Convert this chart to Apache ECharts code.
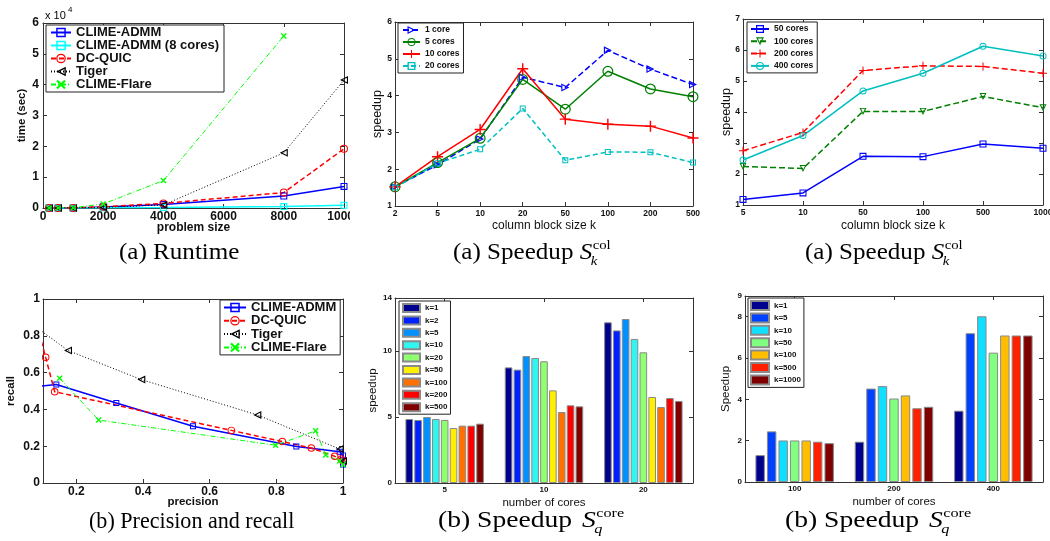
<!DOCTYPE html>
<html><head><meta charset="utf-8">
<script src="https://cdn.jsdelivr.net/npm/echarts@6/dist/echarts.min.js"></script>
<style>
html,body{margin:0;padding:0;background:#fff;}
#wrap{position:relative;width:1050px;height:541px;overflow:hidden;background:#fff;}
.p{position:absolute;width:350px;overflow:hidden;}
</style></head><body>
<div id="wrap">
<div class="p" id="c1" style="left:0;top:0;height:270px"></div>
<div class="p" id="c2" style="left:350px;top:0;height:270px"></div>
<div class="p" id="c3" style="left:700px;top:0;height:270px"></div>
<div class="p" id="c4" style="left:0;top:270px;height:271px"></div>
<div class="p" id="c5" style="left:350px;top:270px;height:271px"></div>
<div class="p" id="c6" style="left:700px;top:270px;height:271px"></div>
</div>
<script>
// ---------------- DATA ----------------
// (a) Runtime: time in seconds vs problem size
const runtimeSizes = [200, 500, 1000, 2000, 4000, 8000, 10000];
const runtimeAdmm   = [5, 10, 30, 300, 1100, 3900, 7000];
const runtimeAdmm8  = [2, 5, 10, 60, 150, 450, 900];
const runtimeDcQuic = [5, 15, 40, 400, 1500, 5000, 19200];
const runtimeTiger  = [5, 15, 40, 200, 1000, 17900, 41500];
const runtimeFlare  = [10, 30, 100, 1300, 8900, 55800, null];

// (a) Speedup S_k^col, small core counts
const colBlockA = ['2', '5', '10', '20', '50', '100', '200', '500'];
const sp1core   = [1.52, 2.12, 2.82, 4.50, 4.22, 5.23, 4.72, 4.30];
const sp5cores  = [1.52, 2.18, 2.84, 4.44, 3.63, 4.66, 4.18, 3.97];
const sp10cores = [1.52, 2.34, 3.08, 4.73, 3.36, 3.22, 3.17, 2.85];
const sp20cores = [1.50, 2.16, 2.54, 3.65, 2.24, 2.47, 2.46, 2.18];

// (a) Speedup S_k^col, large core counts
const colBlockB  = ['5', '10', '50', '100', '500', '1000'];
const sp50cores  = [1.18, 1.39, 2.57, 2.56, 2.97, 2.83];
const sp100cores = [2.24, 2.18, 4.02, 4.02, 4.50, 4.14];
const sp200cores = [2.75, 3.34, 5.34, 5.49, 5.47, 5.25];
const sp400cores = [2.45, 3.24, 4.68, 5.25, 6.12, 5.81];

// (b) Precision and recall: [precision, recall]
const prAdmm  = [[0.05, 0.52], [0.14, 0.535], [0.32, 0.435], [0.55, 0.308], [0.86, 0.198], [0.99, 0.17], [1.0, 0.15], [1.0, 0.10]];
const prQuic  = [[0.095, 0.77], [0.108, 0.683], [0.135, 0.496], [0.665, 0.286], [0.818, 0.225], [0.905, 0.19], [0.975, 0.145], [0.995, 0.13], [1.0, 0.12]];
const prTiger = [[0.06, 0.873], [0.175, 0.72], [0.395, 0.562], [0.743, 0.37], [0.99, 0.185], [1.0, 0.12]];
const prFlare = [[0.15, 0.569], [0.267, 0.342], [0.798, 0.205], [0.918, 0.284], [0.948, 0.152], [0.99, 0.12], [1.0, 0.10]];

// (b) Speedup S_q^core, small core counts
const coresA = ['5', '10', '20'];
const kNamesA = ['k=1', 'k=2', 'k=5', 'k=10', 'k=20', 'k=50', 'k=100', 'k=200', 'k=500'];
const coreSpA = [
  [4.84, 8.75, 12.16],
  [4.77, 8.58, 11.55],
  [4.99, 9.61, 12.41],
  [4.84, 9.46, 10.90],
  [4.77, 9.21, 9.89],
  [4.16, 7.01, 6.51],
  [4.34, 5.37, 5.75],
  [4.34, 5.88, 6.43],
  [4.49, 5.80, 6.21]
];
// (b) Speedup S_q^core, large core counts
const coresB = ['100', '200', '400'];
const kNamesB = ['k=1', 'k=5', 'k=10', 'k=50', 'k=100', 'k=500', 'k=1000'];
const coreSpB = [
  [1.30, 1.95, 3.45],
  [2.45, 4.52, 7.20],
  [2.01, 4.64, 8.02],
  [2.01, 4.04, 6.26],
  [2.01, 4.19, 7.09],
  [1.95, 3.57, 7.09],
  [1.88, 3.64, 7.09]
];

// ---------------- STYLE ----------------
const SANS = '"Liberation Sans", Arial, Helvetica, sans-serif';
const SERIF = '"Liberation Serif", "Times New Roman", serif';
const INK = '#111';
const FRAME = '#333';
const jetA = ['#00008F', '#0020FF', '#0090FF', '#30F5F0', '#90FF70', '#FFEF00', '#FF7000', '#FF0000', '#800000'];
const jetB = ['#00008F', '#0040FF', '#10DFFF', '#80FF80', '#FFBF00', '#FF2000', '#800000'];

function sqSym(t) { return `path://M0,0H10V10H0Z M${t},${t}V${10 - t}H${10 - t}V${t}Z`; }
function circSym(t) {
  const r = 5 - t;
  return `path://M5,0A5,5,0,1,1,5,10A5,5,0,1,1,5,0Z M5,${t}A${r},${r},0,1,0,5,${10 - t}A${r},${r},0,1,0,5,${t}Z`;
}
function triSym(t) {
  const ix = 5, iy = 6.91, ir = 3.09, k = (ir - t) / ir;
  const p = (x, y) => [(ix + k * (x - ix)).toFixed(2), (iy + k * (y - iy)).toFixed(2)];
  const a = p(5, 0), b = p(10, 10), c = p(0, 10);
  return `path://M5,0L10,10L0,10Z M${a[0]},${a[1]}L${c[0]},${c[1]}L${b[0]},${b[1]}Z`;
}
function plusSym(t) { const h = t / 2; return `path://M${5 - h},0H${5 + h}V10H${5 - h}Z M0,${5 - h}H10V${5 + h}H0Z`; }
function crossSym(t) { return `path://M0,${t}L${t},0L10,${10 - t}L${10 - t},10Z M${10 - t},0L10,${t}L${t},10L0,${10 - t}Z`; }

function lineSer(name, data, color, type, width, symbol, size, rot) {
  return {
    name, type: 'line', data, symbol, symbolSize: size, symbolRotate: rot || 0, showSymbol: true,
    lineStyle: { color, width, type }, itemStyle: { color, borderWidth: 0 },
    emphasis: { disabled: true }, animation: false, clip: true
  };
}
function barSer(name, data, color) {
  return {
    name, type: 'bar', data, barGap: '16%', barCategoryGap: '21%',
    itemStyle: { color, borderColor: '#8a8a8a', borderWidth: 1 },
    emphasis: { disabled: true }, animation: false
  };
}
function gridCfg(left, top, width, height) {
  return { left, top, width, height, show: false, containLabel: false, outerBoundsMode: 'none' };
}
function ax(pos, showLabel, fs, extra) {
  return Object.assign({
    position: pos,
    nameMoveOverlap: false,
    axisLine: { show: true, onZero: false, lineStyle: { color: FRAME, width: 1 } },
    axisTick: { show: true, inside: true, length: 4, lineStyle: { color: FRAME, width: 1 } },
    splitLine: { show: false },
    axisLabel: { show: showLabel, color: INK, fontFamily: SANS, fontWeight: 'bold', fontSize: fs, margin: 3, formatter: v => String(v) }
  }, extra || {});
}
function nameStyle(fs, bold) { return { fontFamily: SANS, fontSize: fs, fontWeight: bold ? 'bold' : 'normal', color: INK }; }
function legendCfg(left, top, fs, iw, ih, gap, pad) {
  return {
    orient: 'vertical', left, top, itemWidth: iw, itemHeight: ih, itemGap: gap,
    padding: pad, backgroundColor: '#fff', borderColor: '#222', borderWidth: 1, borderRadius: 0,
    textStyle: { fontFamily: SANS, fontWeight: 'bold', fontSize: fs, color: INK, lineHeight: ih },
    selectedMode: false
  };
}
const measureCtx = document.createElement('canvas').getContext('2d');
function textW(font, s) { measureCtx.font = font; return measureCtx.measureText(s).width; }
function txt(x, baseline, s, size, italic, weight, family, sx) {
  const font = `${italic ? 'italic ' : ''}${weight || 'normal'} ${size}px ${family || SERIF}`;
  return {
    type: 'text', x, y: baseline - 0.32 * size, scaleX: sx || 1, silent: true,
    style: { text: s, font, fill: '#000', textAlign: 'left', textVerticalAlign: 'middle', align: 'left', verticalAlign: 'middle' }
  };
}
function plainCaption(s, left, base, sx) { return [txt(left, base, s, 23, false, 'normal', SERIF, sx)]; }
function speedCaption(prefix, sup, sub, left, base, sx, extra) {
  const wP = textW(`normal 23px ${SERIF}`, prefix + ' ') * sx;
  const wS = textW(`italic normal 23px ${SERIF}`, 'S') * sx;
  const sLeft = left + wP + extra;
  return [
    txt(left, base, prefix, 23, false, 'normal', SERIF, sx),
    txt(sLeft, base, 'S', 23, true, 'normal', SERIF, sx),
    txt(sLeft + wS + 0.5, base - 10.5, sup, 13.5, false, 'normal', SERIF, sx),
    txt(sLeft + wS - 1.5, base + 5.5, sub, 13.5, true, 'normal', SERIF, sx)
  ];
}
function mk(id, opt) {
  const c = echarts.init(document.getElementById(id), null, { renderer: 'canvas' });
  opt.animation = false;
  c.setOption(opt);
}

// ---------------- PANEL 1: Runtime ----------------
function pairs(xs, ys) { const out = []; xs.forEach((x, i) => { if (ys[i] !== null) out.push([x, ys[i]]); }); return out; }
mk('c1', {
  grid: gridCfg(43, 23, 301, 185),
  xAxis: [
    ax('bottom', true, 12, { type: 'value', min: 0, max: 10000, interval: 2000, name: 'problem size', nameLocation: 'middle', nameGap: 14, nameTextStyle: nameStyle(12, true) }),
    ax('top', false, 12, { type: 'value', min: 0, max: 10000, interval: 2000 })
  ],
  yAxis: [
    ax('left', true, 12, { type: 'value', min: 0, max: 60000, interval: 10000, name: 'time (sec)', nameLocation: 'middle', nameGap: 15, nameTextStyle: nameStyle(11.5, true),
      axisLabel: { color: INK, fontFamily: SANS, fontWeight: 'bold', fontSize: 12, margin: 4, formatter: v => String(v / 10000) } }),
    ax('right', false, 12, { type: 'value', min: 0, max: 60000, interval: 10000 })
  ],
  legend: legendCfg(46, 25, 13, 20, 12, 0, [1, 5, 1, 4]),
  graphic: [
    txt(45, 19, 'x 10', 11, false, 'normal', SANS),
    txt(68, 12, '4', 8, false, 'normal', SANS)
  ].concat(plainCaption('(a) Runtime', 119, 260, 1.09)),
  series: [
    lineSer('CLIME-ADMM', pairs(runtimeSizes, runtimeAdmm), '#0000FF', 'solid', 1.5, sqSym(1.5), 7),
    lineSer('CLIME-ADMM (8 cores)', pairs(runtimeSizes, runtimeAdmm8), '#00FFFF', 'solid', 1.5, sqSym(1.5), 7),
    lineSer('DC-QUIC', pairs(runtimeSizes, runtimeDcQuic), '#FF0000', [5, 3], 1.5, circSym(1.3), 8),
    lineSer('Tiger', pairs(runtimeSizes, runtimeTiger), '#000000', [1, 2], 1, triSym(1.4), 8, 90),
    lineSer('CLIME-Flare', pairs(runtimeSizes, runtimeFlare), '#00FF00', [5, 2, 1, 2], 1, crossSym(1.6), 6)
  ]
});

// ---------------- PANEL 2: Speedup col (small cores) ----------------
mk('c2', {
  grid: gridCfg(45, 22, 298, 184),
  xAxis: [
    ax('bottom', true, 8.5, { type: 'category', data: colBlockA, boundaryGap: false, name: 'column block size k', nameLocation: 'middle', nameGap: 14, nameTextStyle: nameStyle(12, false) }),
    ax('top', false, 8.5, { type: 'category', data: colBlockA, boundaryGap: false })
  ],
  yAxis: [
    ax('left', true, 8.5, { type: 'value', min: 1, max: 6, interval: 1, name: 'speedup', nameLocation: 'middle', nameGap: 11, nameTextStyle: nameStyle(12.5, false) }),
    ax('right', false, 8.5, { type: 'value', min: 1, max: 6, interval: 1 })
  ],
  legend: legendCfg(48, 23, 8.5, 17, 10, 2, [2, 4, 2, 4]),
  graphic: speedCaption('(a) Speedup', 'col', 'k', 103, 260, 1.09, 0),
  series: [
    lineSer('1 core', sp1core, '#0000FF', [6, 3], 1.5, triSym(1.4), 8, -90),
    lineSer('5 cores', sp5cores, '#008000', 'solid', 1.5, circSym(1.1), 11),
    lineSer('10 cores', sp10cores, '#FF0000', 'solid', 1.5, plusSym(1.3), 11),
    lineSer('20 cores', sp20cores, '#00BFBF', [5, 3], 1.5, sqSym(1.7), 6)
  ]
});

// ---------------- PANEL 3: Speedup col (large cores) ----------------
mk('c3', {
  grid: gridCfg(43, 19, 300, 186),
  xAxis: [
    ax('bottom', true, 8.5, { type: 'category', data: colBlockB, boundaryGap: false, name: 'column block size k', nameLocation: 'middle', nameGap: 15, nameTextStyle: nameStyle(12, false) }),
    ax('top', false, 8.5, { type: 'category', data: colBlockB, boundaryGap: false })
  ],
  yAxis: [
    ax('left', true, 8.5, { type: 'value', min: 1, max: 7, interval: 1, name: 'speedup', nameLocation: 'middle', nameGap: 10, nameTextStyle: nameStyle(12.5, false) }),
    ax('right', false, 8.5, { type: 'value', min: 1, max: 7, interval: 1 })
  ],
  legend: legendCfg(47, 22, 8.5, 18, 10, 2.3, [2, 4, 2, 3]),
  graphic: speedCaption('(a) Speedup', 'col', 'k', 105, 260, 1.09, 0),
  series: [
    lineSer('50 cores', sp50cores, '#0000FF', 'solid', 1.5, sqSym(1.5), 7),
    lineSer('100 cores', sp100cores, '#008000', [6, 3], 1.5, triSym(1.4), 7, 180),
    lineSer('200 cores', sp200cores, '#FF0000', [6, 3], 1.5, plusSym(1.3), 8),
    lineSer('400 cores', sp400cores, '#00BFBF', 'solid', 1.5, circSym(1.4), 7)
  ]
});

// ---------------- PANEL 4: Precision and recall ----------------
const prTicks = [0.2, 0.4, 0.6, 0.8, 1];
mk('c4', {
  grid: gridCfg(43, 29, 300, 184),
  xAxis: [
    ax('bottom', true, 12, { type: 'value', min: 0.1, max: 1, name: 'precision', nameLocation: 'middle', nameGap: 13, nameTextStyle: nameStyle(11.5, true),
      axisLabel: { color: INK, fontFamily: SANS, fontWeight: 'bold', fontSize: 12, margin: 3, customValues: prTicks },
      axisTick: { show: true, inside: true, length: 4, lineStyle: { color: FRAME }, customValues: prTicks } }),
    ax('top', false, 12, { type: 'value', min: 0.1, max: 1,
      axisTick: { show: true, inside: true, length: 4, lineStyle: { color: FRAME }, customValues: prTicks } })
  ],
  yAxis: [
    ax('left', true, 12, { type: 'value', min: 0, max: 1, interval: 0.2, name: 'recall', nameLocation: 'middle', nameGap: 26, nameTextStyle: nameStyle(11.5, true) }),
    ax('right', false, 12, { type: 'value', min: 0, max: 1, interval: 0.2 })
  ],
  legend: legendCfg(220, 30, 13, 22, 12, 0.3, [1, 4, 1, 3]),
  graphic: plainCaption('(b) Precision and recall', 89, 259, 0.96),
  series: [
    lineSer('CLIME-ADMM', prAdmm, '#0000FF', 'solid', 1.5, sqSym(1.6), 6),
    lineSer('DC-QUIC', prQuic, '#FF0000', [5, 3], 1.5, circSym(1.3), 7.5),
    lineSer('Tiger', prTiger, '#000000', [1, 2], 1, triSym(1.4), 8, 90),
    lineSer('CLIME-Flare', prFlare, '#00FF00', [5, 2, 1, 2], 1, crossSym(1.6), 6)
  ]
});

// ---------------- PANEL 5: Speedup core (small cores) ----------------
mk('c5', {
  grid: gridCfg(45, 28, 298, 185),
  xAxis: [
    ax('bottom', true, 8, { type: 'category', data: coresA, name: 'number of cores', nameLocation: 'middle', nameGap: 14, nameTextStyle: nameStyle(11.5, false),
      axisTick: { show: true, inside: true, length: 4, alignWithLabel: true, lineStyle: { color: FRAME } } }),
    ax('top', false, 8, { type: 'category', data: coresA,
      axisTick: { show: true, inside: true, length: 4, alignWithLabel: true, lineStyle: { color: FRAME } } })
  ],
  yAxis: [
    ax('left', true, 8, { type: 'value', min: 0, max: 14, interval: 5, name: 'speedup', nameLocation: 'middle', nameGap: 16, nameTextStyle: nameStyle(11.5, false) }),
    ax('right', false, 8, { type: 'value', min: 0, max: 14, interval: 5 })
  ],
  legend: Object.assign(legendCfg(49, 31, 8, 17, 8, 2.4, [2, 3, 2, 3]), { icon: 'rect' }),
  graphic: speedCaption('(b) Speedup', 'core', 'q', 88, 258, 1.2, 3),
  series: kNamesA.map((k, i) => barSer(k, coreSpA[i], jetA[i]))
});

// ---------------- PANEL 6: Speedup core (large cores) ----------------
mk('c6', {
  grid: gridCfg(45, 26, 298, 186),
  xAxis: [
    ax('bottom', true, 8, { type: 'category', data: coresB, name: 'number of cores', nameLocation: 'middle', nameGap: 14, nameTextStyle: nameStyle(11.5, false),
      axisTick: { show: true, inside: true, length: 4, alignWithLabel: true, lineStyle: { color: FRAME } } }),
    ax('top', false, 8, { type: 'category', data: coresB,
      axisTick: { show: true, inside: true, length: 4, alignWithLabel: true, lineStyle: { color: FRAME } } })
  ],
  yAxis: [
    ax('left', true, 8, { type: 'value', min: 0, max: 9, interval: 2, name: 'Speedup', nameLocation: 'middle', nameGap: 13, nameTextStyle: nameStyle(11.5, false) }),
    ax('right', false, 8, { type: 'value', min: 0, max: 9, interval: 2 })
  ],
  legend: Object.assign(legendCfg(48, 28, 8, 18, 9, 1.4, [2, 3, 2, 2]), { icon: 'rect' }),
  graphic: speedCaption('(b) Speedup', 'core', 'q', 85, 258, 1.2, 3),
  series: kNamesB.map((k, i) => Object.assign(barSer(k, coreSpB[i], jetB[i]), { barGap: '22%' }))
});
</script>
</body></html>
